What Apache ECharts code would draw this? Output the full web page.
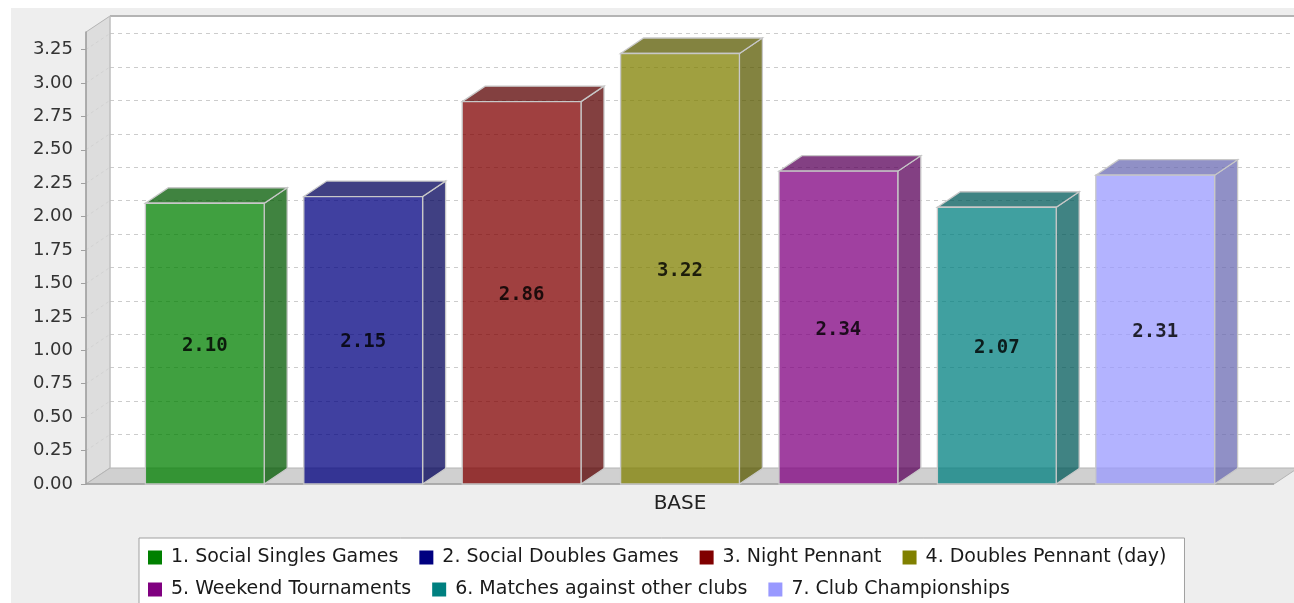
<!DOCTYPE html>
<html>
<head>
<meta charset="utf-8">
<script src="https://cdn.jsdelivr.net/npm/echarts@6/dist/echarts.min.js"></script>
<style>
  html, body { margin: 0; padding: 0; background: #ffffff; }
  #chart { width: 1294px; height: 603px; }
</style>
</head>
<body>
<div id="chart"></div>
<script>
// Category and series data
const categories = ['BASE'];
const seriesNames = [
  '1. Social Singles Games',
  '2. Social Doubles Games',
  '3. Night Pennant',
  '4. Doubles Pennant (day)',
  '5. Weekend Tournaments',
  '6. Matches against other clubs',
  '7. Club Championships'
];
const seriesValues = [2.10, 2.15, 2.86, 3.22, 2.34, 2.07, 2.31];
const valueTicks = [0.00, 0.25, 0.50, 0.75, 1.00, 1.25, 1.50, 1.75, 2.00, 2.25, 2.50, 2.75, 3.00, 3.25];
// Legend rows
const legendRows = [seriesNames.slice(0, 4), seriesNames.slice(4)];

// Series paint
const palette = ['#008000', '#000080', '#800000', '#808000', '#800080', '#008080', '#9999ff'];

// 3D depth offset, category margins, foreground alpha
const DX = 24, DY = 16;
const BAR_DX = 23, BAR_DY = 15.5;
const LOWER_MARGIN = 0.05, UPPER_MARGIN = 0.05, ITEM_MARGIN = 0.20;
const ALPHA = 0.75;
const yMax = Math.max(...seriesValues) * 1.05;

function rgba(hex, a, k) {
  k = k == null ? 1 : k;
  const n = parseInt(hex.slice(1), 16);
  const r = Math.round(((n >> 16) & 255) * k);
  const g = Math.round(((n >> 8) & 255) * k);
  const b = Math.round((n & 255) * k);
  return 'rgba(' + r + ',' + g + ',' + b + ',' + a + ')';
}

// Walls, floor and the wall grid lines around the plot
function renderWalls(params, api) {
  const cs = params.coordSys;
  const x = cs.x, y = cs.y, w = cs.width, h = cs.height;
  const children = [];
  children.push({
    type: 'polygon',
    shape: { points: [[x, y + h], [x, y], [x + DX, y - DY], [x + DX, y + h - DY]] },
    style: { fill: '#dddddd', stroke: '#b4b4b4', lineWidth: 1 }
  });
  valueTicks.forEach(function (v) {
    if (v === 0) return;
    const py = api.coord([0, v])[1];
    children.push({
      type: 'line',
      shape: { x1: x, y1: py, x2: x + DX, y2: py - DY },
      style: { stroke: '#d2d2d2', lineWidth: 1, lineDash: [3, 3] }
    });
  });
  children.push({
    type: 'polygon',
    shape: { points: [[x, y + h], [x + DX, y + h - DY], [x + w + DX, y + h - DY], [x + w, y + h]] },
    style: { fill: '#d0d0d0', stroke: '#b4b4b4', lineWidth: 1 }
  });
  children.push({
    type: 'line',
    shape: { x1: x, y1: y + h, x2: x + w, y2: y + h },
    style: { stroke: '#a0a0a0', lineWidth: 1.5 }
  });
  children.push({
    type: 'line',
    shape: { x1: x + DX, y1: y - DY, x2: x + w + DX, y2: y - DY },
    style: { stroke: '#b4b4b4', lineWidth: 2 }
  });
  children.push({
    type: 'line',
    shape: { x1: x + DX, y1: y - DY, x2: x + DX, y2: y + h - DY },
    style: { stroke: '#c4c4c4', lineWidth: 1 }
  });
  return { type: 'group', children: children };
}

// One 3D bar per series inside the single category band
function barRenderer(i) {
  return function (params, api) {
    const n = seriesValues.length;
    const band = api.size([1, 0])[0];
    const base = api.coord([0, 0]);
    const bandLeft = base[0] - band / 2;
    const barW = band * (1 - LOWER_MARGIN - UPPER_MARGIN - ITEM_MARGIN) / n;
    const gap = band * ITEM_MARGIN / (n - 1);
    const x0 = bandLeft + band * LOWER_MARGIN + i * (barW + gap);
    const x1 = x0 + barW;
    const value = api.value(1);
    const yTop = api.coord([0, value])[1];
    const yBase = base[1];
    const color = palette[i];
    const edge = { stroke: '#c8c8c8', lineWidth: 1.3 };
    return {
      type: 'group',
      children: [
        {
          type: 'polygon',
          shape: { points: [[x1, yTop], [x1 + BAR_DX, yTop - BAR_DY], [x1 + BAR_DX, yBase - BAR_DY], [x1, yBase]] },
          style: Object.assign({ fill: rgba(color, ALPHA, 0.7) }, edge)
        },
        {
          type: 'polygon',
          shape: { points: [[x0, yTop], [x0 + BAR_DX, yTop - BAR_DY], [x1 + BAR_DX, yTop - BAR_DY], [x1, yTop]] },
          style: Object.assign({ fill: rgba(color, ALPHA, 0.7) }, edge)
        },
        {
          type: 'rect',
          shape: { x: x0, y: yTop, width: barW, height: yBase - yTop },
          style: Object.assign({ fill: rgba(color, ALPHA) }, edge)
        },
        {
          type: 'text',
          style: {
            text: value.toFixed(2),
            x: (x0 + x1) / 2,
            y: (yTop + yBase) / 2 + 2,
            align: 'center',
            verticalAlign: 'middle',
            font: 'bold 19px "DejaVu Sans Mono"',
            fill: 'rgba(0,0,0,0.82)'
          }
        }
      ]
    };
  };
}

const series = [{
  type: 'custom',
  name: '__walls',
  xAxisIndex: 0,
  yAxisIndex: 0,
  clip: false,
  silent: true,
  data: [[0, 0]],
  renderItem: renderWalls
}];
seriesNames.forEach(function (name, i) {
  series.push({
    type: 'custom',
    name: name,
    xAxisIndex: 0,
    yAxisIndex: 0,
    clip: false,
    itemStyle: { color: palette[i] },
    encode: { x: 0, y: 1 },
    data: [[0, seriesValues[i]]],
    renderItem: barRenderer(i)
  });
});

const legendText = { fontSize: 19, fontFamily: 'DejaVu Sans', color: '#1a1a1a', padding: [0, 0, 0, 4] };
const legendCommon = {
  left: 139,
  orient: 'horizontal',
  selectedMode: false,
  icon: 'rect',
  itemWidth: 14,
  itemHeight: 14,
  itemGap: 21,
  textStyle: legendText
};

const chart = echarts.init(document.getElementById('chart'), null, { renderer: 'canvas' });
chart.setOption({
  backgroundColor: '#ffffff',
  animation: false,
  graphic: [{
    type: 'rect',
    z: -100,
    silent: true,
    shape: { x: 11, y: 8, width: 1300, height: 620 },
    style: { fill: '#eeeeee' }
  }],
  grid: [
    { left: 86, top: 32, width: 1188, height: 452, show: false },
    { left: 110, top: 16, width: 1188, height: 452, show: true, backgroundColor: '#ffffff', borderWidth: 0 }
  ],
  xAxis: [
    {
      gridIndex: 0,
      type: 'category',
      data: categories,
      axisLine: { show: false },
      axisTick: { show: false },
      axisLabel: { fontSize: 20, fontFamily: 'DejaVu Sans', color: '#222222', margin: 10 }
    },
    { gridIndex: 1, type: 'category', data: categories, show: false }
  ],
  yAxis: [
    {
      gridIndex: 0,
      type: 'value',
      min: 0,
      max: yMax,
      interval: 0.25,
      z: 5,
      axisLine: { show: true, lineStyle: { color: '#a0a0a0', width: 1.5 } },
      axisTick: { show: true, length: 5, lineStyle: { color: '#a0a0a0' }, customValues: valueTicks },
      axisLabel: {
        customValues: valueTicks,
        margin: 13,
        fontSize: 18,
        fontFamily: 'DejaVu Sans',
        color: '#333333',
        formatter: function (v) { return v.toFixed(2); }
      },
      splitLine: { show: false }
    },
    {
      gridIndex: 1,
      type: 'value',
      min: 0,
      max: yMax,
      interval: 0.25,
      axisLine: { show: false },
      axisTick: { show: false },
      axisLabel: { show: false },
      splitLine: { show: true, lineStyle: { color: '#cccccc', width: 1, type: [4, 4] } }
    }
  ],
  legend: [
    Object.assign({}, legendCommon, {
      data: legendRows[0],
      top: 538,
      padding: [10, 18, 60, 9],
      backgroundColor: '#ffffff',
      borderColor: '#a0a0a0',
      borderWidth: 1
    }),
    Object.assign({}, legendCommon, {
      data: legendRows[1],
      top: 570,
      z: 6,
      padding: [10, 14, 10, 9],
      backgroundColor: 'transparent',
      borderWidth: 0
    })
  ],
  series: series
});
</script>
</body>
</html>
